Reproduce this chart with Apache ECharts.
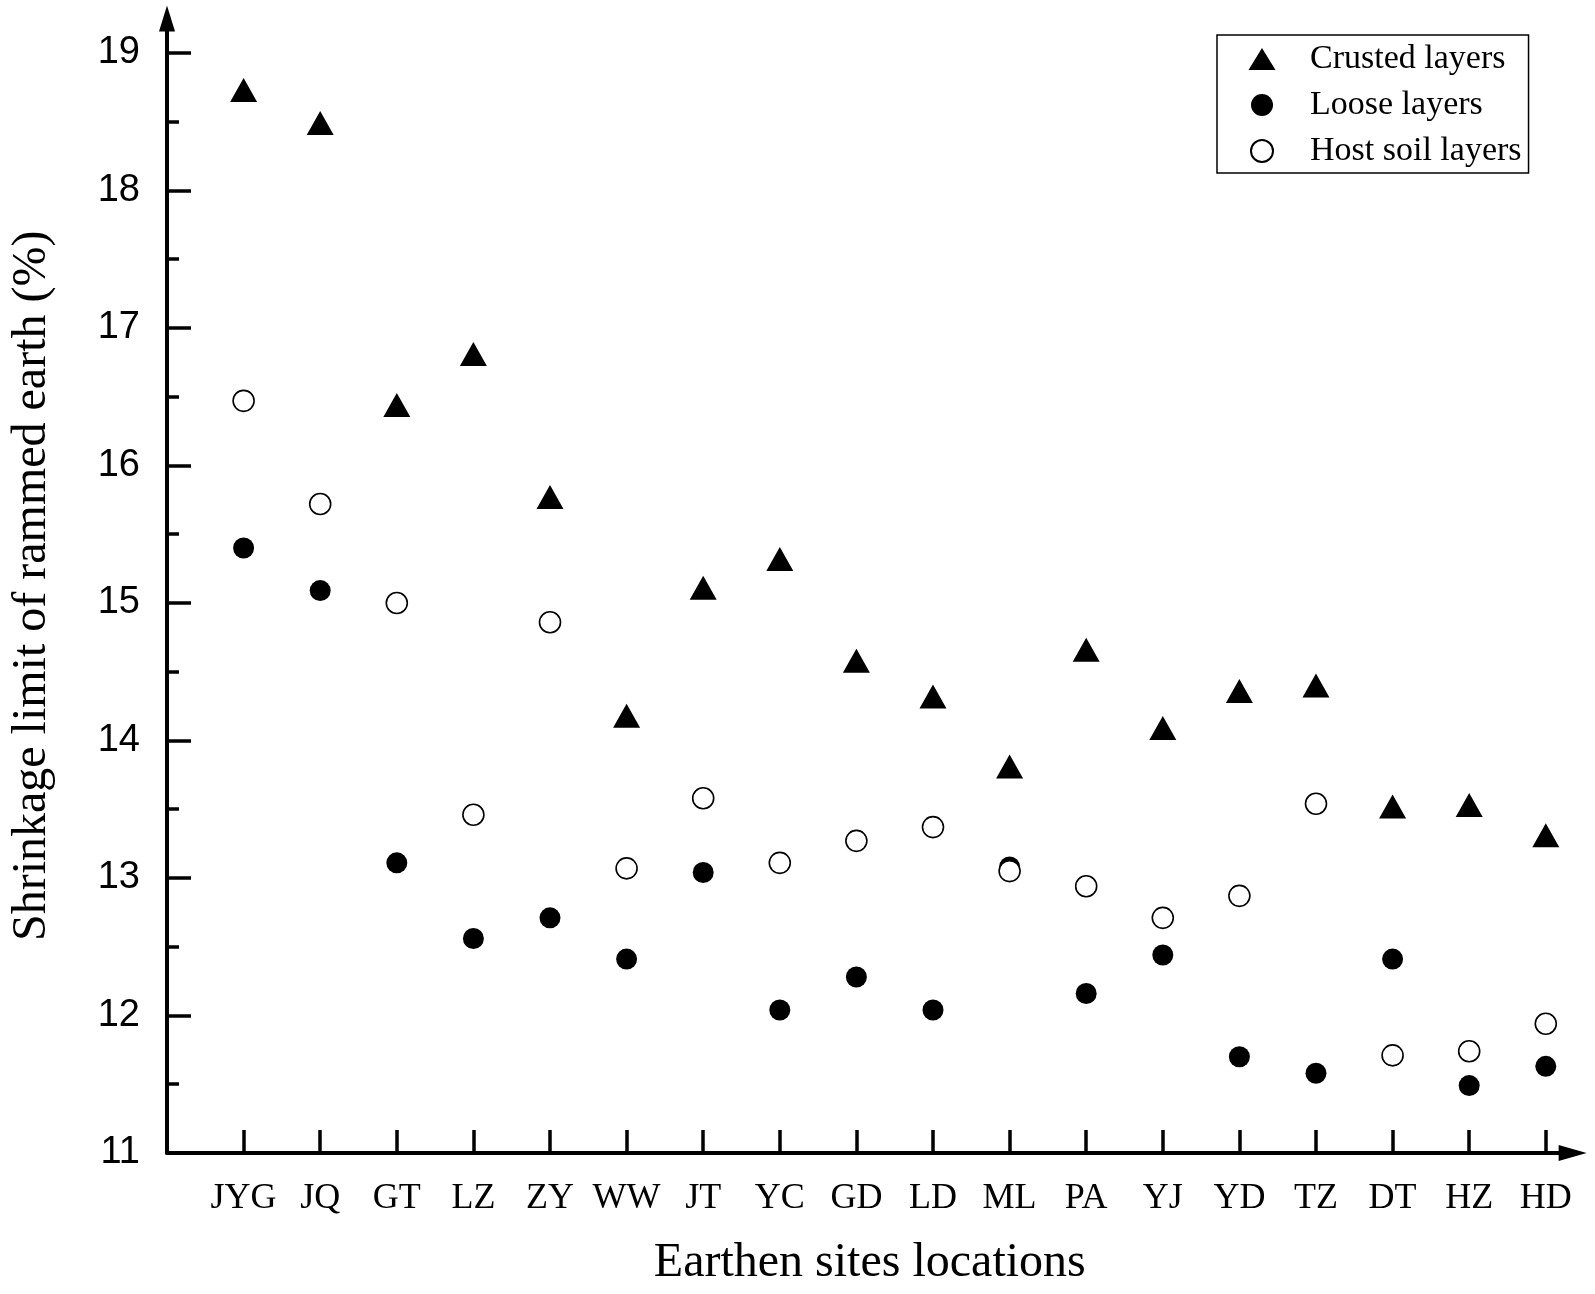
<!DOCTYPE html>
<html>
<head>
<meta charset="utf-8">
<script src="https://cdn.jsdelivr.net/npm/echarts@6/dist/echarts.min.js"></script>
<style>
  html, body { margin: 0; padding: 0; background: #fff; }
  #chart { width: 1595px; height: 1294px; }
</style>
</head>
<body>
<div id="chart"></div>
<script>
// Sites along the x axis
const sites = ['JYG', 'JQ', 'GT', 'LZ', 'ZY', 'WW', 'JT', 'YC', 'GD', 'LD', 'ML', 'PA', 'YJ', 'YD', 'TZ', 'DT', 'HZ', 'HD']

// Shrinkage limit (%) per layer type
const crusted = [18.73, 18.49, 16.44, 16.81, 15.77, 14.18, 15.11, 15.32, 14.58, 14.32, 13.81, 14.66, 14.09, 14.36, 14.40, 13.52, 13.53, 13.31]
const loose = [15.40, 15.09, 13.11, 12.56, 12.71, 12.41, 13.04, 12.04, 12.28, 12.04, 13.08, 12.16, 12.44, 11.70, 11.58, 12.41, 11.49, 11.63]
const host = [16.47, 15.72, 15.00, 13.46, 14.86, 13.07, 13.58, 13.11, 13.27, 13.37, 13.05, 12.94, 12.71, 12.87, 13.54, 11.71, 11.74, 11.94]

// Tick values
const siteTicks = sites.map((s, i) => i + 1)
const yMajor = [11, 12, 13, 14, 15, 16, 17, 18, 19]
const yMinor = [11.5, 12.5, 13.5, 14.5, 15.5, 16.5, 17.5, 18.5]

const serif = 'Liberation Serif'
const toPoints = (arr) => arr.map((v, i) => [i + 1, v])

const chart = echarts.init(document.getElementById('chart'))

const yBase = {
  type: 'value',
  min: 11,
  max: 19.25,
  position: 'left',
  splitLine: { show: false }
}

chart.setOption({
  animation: false,
  backgroundColor: '#fff',
  grid: { left: 167, right: 22.4, top: 18.6, bottom: 141, containLabel: false },
  legend: {
    orient: 'vertical',
    left: 1217,
    top: 35,
    padding: [7, 7, 5, 31.5],
    borderColor: '#000',
    borderWidth: 1.5,
    itemWidth: 27,
    itemHeight: 22,
    itemGap: 12,
    itemStyle: { opacity: 1 },
    textStyle: { fontFamily: serif, fontSize: 34, lineHeight: 34, color: '#000', padding: [0, 0, 0, 29.5] },
    data: ['Crusted layers', 'Loose layers', 'Host soil layers']
  },
  xAxis: {
    type: 'value',
    min: 0,
    max: 18.35,
    name: 'Earthen sites locations',
    nameLocation: 'middle',
    nameGap: 86,
    nameTextStyle: { fontFamily: serif, fontSize: 48, color: '#000' },
    splitLine: { show: false },
    axisLine: {
      lineStyle: { color: '#000', width: 4 },
      symbol: ['none', 'triangle'],
      symbolSize: [16, 28]
    },
    axisTick: {
      inside: true,
      length: 23,
      customValues: siteTicks,
      lineStyle: { color: '#000', width: 3.5 }
    },
    axisLabel: {
      customValues: siteTicks,
      margin: 28,
      fontFamily: serif,
      fontSize: 36,
      color: '#000',
      formatter: (v) => sites[v - 1] || ''
    }
  },
  yAxis: [
    {
      ...yBase,
      name: 'Shrinkage limit of rammed earth (%)',
      nameLocation: 'middle',
      nameGap: 111,
      nameTextStyle: { fontFamily: serif, fontSize: 48, color: '#000' },
      axisLine: {
        show: true,
        lineStyle: { color: '#000', width: 4 },
        symbol: ['none', 'triangle'],
        symbolSize: [16, 26]
      },
      axisTick: {
        inside: true,
        length: 24,
        customValues: yMajor,
        lineStyle: { color: '#000', width: 3.5 }
      },
      axisLabel: {
        customValues: yMajor,
        margin: 27,
        fontFamily: 'Liberation Sans',
        fontSize: 38,
        color: '#000'
      }
    },
    {
      ...yBase,
      axisLine: { show: false },
      axisTick: {
        inside: true,
        length: 12,
        customValues: yMinor,
        lineStyle: { color: '#000', width: 3.5 }
      },
      axisLabel: { show: false }
    }
  ],
  series: [
    {
      name: 'Crusted layers',
      type: 'scatter',
      symbol: 'triangle',
      symbolSize: [27, 24],
      itemStyle: { color: '#000', opacity: 1 },
      data: toPoints(crusted)
    },
    {
      name: 'Loose layers',
      type: 'scatter',
      symbol: 'circle',
      symbolSize: 21,
      itemStyle: { color: '#000', opacity: 1 },
      data: toPoints(loose)
    },
    {
      name: 'Host soil layers',
      type: 'scatter',
      symbol: 'circle',
      symbolSize: 21,
      itemStyle: { color: '#fff', borderColor: '#000', borderWidth: 1.6, opacity: 1 },
      data: toPoints(host)
    }
  ]
})
</script>
</body>
</html>
